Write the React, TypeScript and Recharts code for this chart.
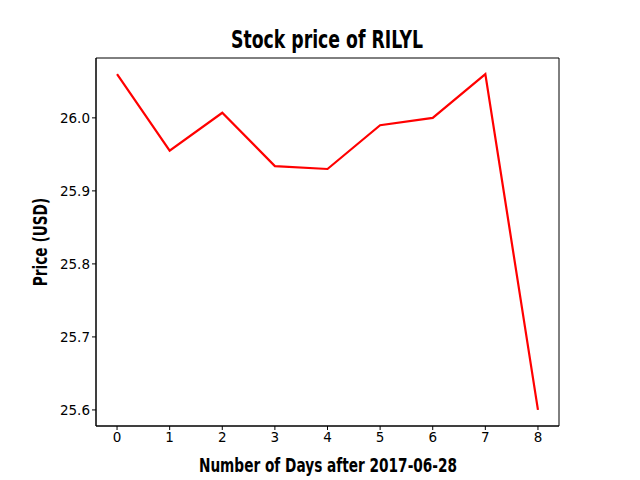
import { LineChart, Line, XAxis, YAxis, ReferenceArea } from "recharts"

const days = [0, 1, 2, 3, 4, 5, 6, 7, 8]
const prices = [26.06, 25.955, 26.007, 25.934, 25.93, 25.99, 26.0, 26.06, 25.6]
const xTicks = [0, 1, 2, 3, 4, 5, 6, 7, 8]
const yTicks = [25.6, 25.7, 25.8, 25.9, 26.0]

const data = days.map((d, i) => ({ day: d, price: prices[i] }))

const boldText = {
  position: "absolute" as const,
  fontFamily: "'DejaVu Sans', sans-serif",
  fontWeight: "bold" as const,
  color: "#000",
  whiteSpace: "nowrap" as const,
}
const tickStyle = { fontFamily: "DejaVu Sans", fontSize: 13.5, fill: "#000" }

export default function App() {
  return (
    <div style={{ position: "fixed", left: 0, top: 0, width: 640, height: 480, background: "#fff" }}>
      <LineChart width={640} height={480} data={data} margin={{ top: 58, right: 81, left: 0, bottom: 0 }}>
        <XAxis
          dataKey="day"
          type="number"
          domain={[-0.4, 8.4]}
          ticks={xTicks}
          height={54}
          stroke="#000"
          tick={tickStyle}
          tickSize={4}
        />
        <YAxis
          type="number"
          domain={[25.578, 26.082]}
          ticks={yTicks}
          width={96}
          stroke="#000"
          tick={tickStyle}
          tickSize={4}
          tickFormatter={(v: number) => v.toFixed(1)}
        />
        <ReferenceArea x1={-0.4} x2={8.4} y1={25.578} y2={26.082} fill="none" stroke="#000" strokeWidth={1} />
        <Line
          dataKey="price"
          stroke="#ff0000"
          strokeWidth={2.2}
          dot={false}
          type="linear"
          isAnimationActive={false}
        />
      </LineChart>
      <div style={{ ...boldText, left: 327, top: 40, fontSize: 24, transform: "translate(-50%, -50%) scaleX(0.72)" }}>
        Stock price of RILYL
      </div>
      <div style={{ ...boldText, left: 328, top: 465, fontSize: 19, transform: "translate(-50%, -50%) scaleX(0.72)" }}>
        Number of Days after 2017-06-28
      </div>
      <div style={{ ...boldText, left: 40, top: 242, fontSize: 19, transform: "translate(-50%, -50%) rotate(-90deg) scaleX(0.72)" }}>
        Price (USD)
      </div>
    </div>
  )
}
